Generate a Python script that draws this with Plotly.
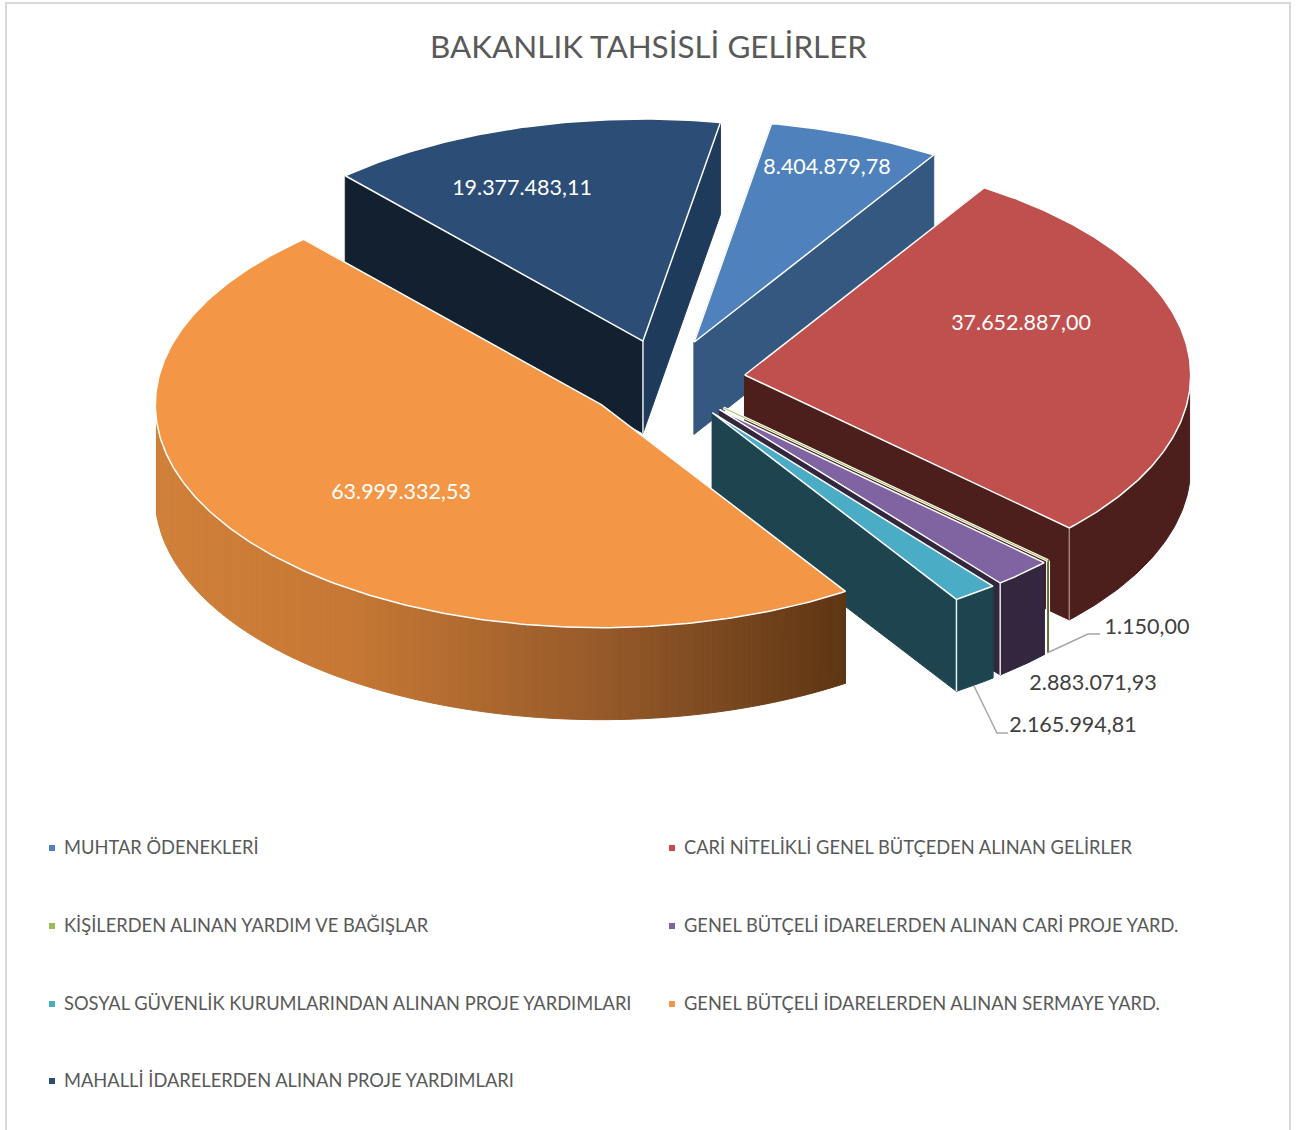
import math
import plotly.graph_objects as go

TITLE = "BAKANLIK TAHSİSLİ GELİRLER"
categories = [
    "MUHTAR ÖDENEKLERİ",
    "CARİ NİTELİKLİ GENEL BÜTÇEDEN ALINAN GELİRLER",
    "KİŞİLERDEN ALINAN YARDIM VE BAĞIŞLAR",
    "GENEL BÜTÇELİ İDARELERDEN ALINAN CARİ PROJE YARD.",
    "SOSYAL GÜVENLİK KURUMLARINDAN ALINAN PROJE YARDIMLARI",
    "GENEL BÜTÇELİ İDARELERDEN ALINAN SERMAYE YARD.",
    "MAHALLİ İDARELERDEN ALINAN PROJE YARDIMLARI",
]
values = [8404879.78, 37652887.00, 1150.00, 2883071.93, 2165994.81, 63999332.53, 19377483.11]

top_colors = ["#4F81BD", "#C0504D", "#9BBB59", "#8064A2", "#4BACC6", "#F39645", "#2C4D75"]
start_wall = ["#34587F", "#4D1F1C", "#5F6F3A", "#33263F", "#1E454F", "#7A4A20", "#12202F"]
end_wall = ["#34587F", "#4D1F1C", "#5F6F3A", "#33263F", "#1E454F", "#7A4A20", "#1F3B5B"]
outer_wall = ["#34587F", "#4D1F1C", "#5F6F3A", "#33263F", "#1E454F", None, "#1F3B5B"]
draw_order = [6, 0, 1, 2, 3, 4, 5]
corner_edges = {1: "rgba(255,255,255,0.45)", 3: "#E8E4EC", 4: "#E6EEF0", 2: "#FFFFFF"}

label_pos = [(827, 169), (1021, 325), (1147, 629), (1093, 685), (1073, 727), (401, 494), (522, 190)]
label_colors = ["white", "white", "#404040", "#404040", "#404040", "white", "white"]
orange_stops = [(155, (208, 128, 57)), (350, (198, 120, 52)), (600, (150, 90, 42)), (845, (94, 54, 20))]

CX, CY, RX, DEPTH, EXPLODE, ROTATION = 665, 380, 446, 92, 0.18, 10.0
RY_BACK, RY_FRONT, RY_EXPLODE = 222, 223, 225
FONT = "Lato"
total = sum(values)


def fmt(v):
    return f"{v:,.2f}".replace(",", "#").replace(".", ",").replace("#", ".")


def angles():
    a = ROTATION
    out = []
    for v in values:
        b = a + v / total * 360
        out.append((a, b))
        a = b
    return out


def point(c, th, depth=0):
    r = math.radians(th)
    cs = math.cos(r)
    ry = RY_BACK if cs > 0 else RY_FRONT
    return c[0] + RX * math.sin(r), c[1] - ry * cs + depth


def samples(a, b):
    n = max(2, int(abs(b - a) * 1.5))
    return [a + (b - a) * i / (n - 1) for i in range(n)]


fig = go.Figure()


def poly(pts, fill, line=None, width=1):
    xs = [p[0] for p in pts] + [pts[0][0]]
    ys = [p[1] for p in pts] + [pts[0][1]]
    fig.add_trace(go.Scatter(x=xs, y=ys, mode="lines", fill="toself", fillcolor=fill,
                             line=dict(color=line or fill, width=width),
                             hoverinfo="skip", showlegend=False))


def seg(p, q, color, width):
    fig.add_trace(go.Scatter(x=[p[0], q[0]], y=[p[1], q[1]], mode="lines",
                             line=dict(color=color, width=width),
                             hoverinfo="skip", showlegend=False))


def orange_col(x):
    for (x0, c0), (x1, c1) in zip(orange_stops, orange_stops[1:]):
        if x <= x1:
            t = max(0, (x - x0) / (x1 - x0))
            return "rgb(%d,%d,%d)" % tuple(round(u + (w - u) * t) for u, w in zip(c0, c1))
    return "rgb(%d,%d,%d)" % orange_stops[-1][1]


spans = angles()
for i in draw_order:
    a, b = spans[i]
    mid = math.radians((a + b) / 2)
    c = (CX + EXPLODE * RX * math.sin(mid), CY - EXPLODE * RY_EXPLODE * math.cos(mid))
    pa, pb = point(c, a), point(c, b)
    down = lambda p: (p[0], p[1] + DEPTH)
    is_tiny = b - a < 0.05
    if not is_tiny:
        poly([c, pa, down(pa), (c[0], c[1] + DEPTH)], start_wall[i])
        poly([c, pb, down(pb), (c[0], c[1] + DEPTH)], end_wall[i])
    lo, hi = max(a, 94), min(b, 266)
    if hi > lo:
        ths = samples(lo, hi)
        if outer_wall[i] is None:
            for t0, t1 in zip(ths, ths[1:]):
                p0, p1 = point(c, t0), point(c, t1)
                poly([p0, p1, down(p1), down(p0)], orange_col((p0[0] + p1[0]) / 2))
        elif not is_tiny:
            arc = [point(c, t) for t in ths]
            poly(arc + [down(p) for p in reversed(arc)], outer_wall[i])
    if is_tiny:
        seg(pb, down(pb), "#FFFFFF", 4)
        seg(pb, down(pb), start_wall[i], 2)
        seg(c, pb, "#FFFFFF", 3)
        seg(c, pb, top_colors[i], 1)
    else:
        arc = [point(c, t) for t in samples(a, b)]
        poly([c] + arc, top_colors[i], "#FFFFFF", 1.5)
        if i in corner_edges:
            seg(pb, down(pb), corner_edges[i], 1.5)
        if i == 6:
            seg(c, down(c), "#E8ECF0", 1.5)

fig.add_trace(go.Scatter(x=[p[0] for p in label_pos], y=[p[1] for p in label_pos], mode="text",
                         text=[fmt(v) for v in values], textposition="middle center",
                         textfont=dict(family=FONT, size=21.5, color=label_colors),
                         hoverinfo="skip", showlegend=False))

for path in [[(1047, 653), (1088, 634), (1100, 634)], [(974, 686), (997, 733), (1008, 733)]]:
    fig.add_trace(go.Scatter(x=[p[0] for p in path], y=[p[1] for p in path], mode="lines",
                             line=dict(color="#A6A6A6", width=1.5), hoverinfo="skip", showlegend=False))

legend_x = [52, 672, 52, 672, 52, 672, 52]
legend_y = [848, 848, 926, 926, 1004, 1004, 1081]
fig.add_trace(go.Scatter(x=legend_x, y=legend_y, mode="markers",
                         marker=dict(symbol="square", size=6, color=top_colors),
                         hoverinfo="skip", showlegend=False))
fig.add_trace(go.Scatter(x=[x + 12 for x in legend_x], y=[y + 1 for y in legend_y], mode="text", text=categories,
                         textposition="middle right",
                         textfont=dict(family=FONT, size=18.3, color="#595959"),
                         hoverinfo="skip", showlegend=False))

fig.update_layout(
    width=1302, height=1130, margin=dict(l=0, r=0, t=0, b=0),
    paper_bgcolor="white", plot_bgcolor="white",
    xaxis=dict(range=[0, 1302], visible=False, domain=[0, 1], fixedrange=True),
    yaxis=dict(range=[1130, 0], visible=False, domain=[0, 1], fixedrange=True),
    showlegend=False,
    title=dict(text=TITLE, x=648.5 / 1302, xanchor="center", y=1 - 47 / 1130, yanchor="middle",
               font=dict(family=FONT, size=31.4, color="#595959")),
    shapes=[dict(type="rect", xref="x", yref="y", x0=6, y0=3, x1=1290, y1=1145,
                 line=dict(color="#D9D9D9", width=2), layer="below")],
)
fig.write_html("out.html", post_script="document.body.style.margin='0';", config={"displayModeBar": False})
